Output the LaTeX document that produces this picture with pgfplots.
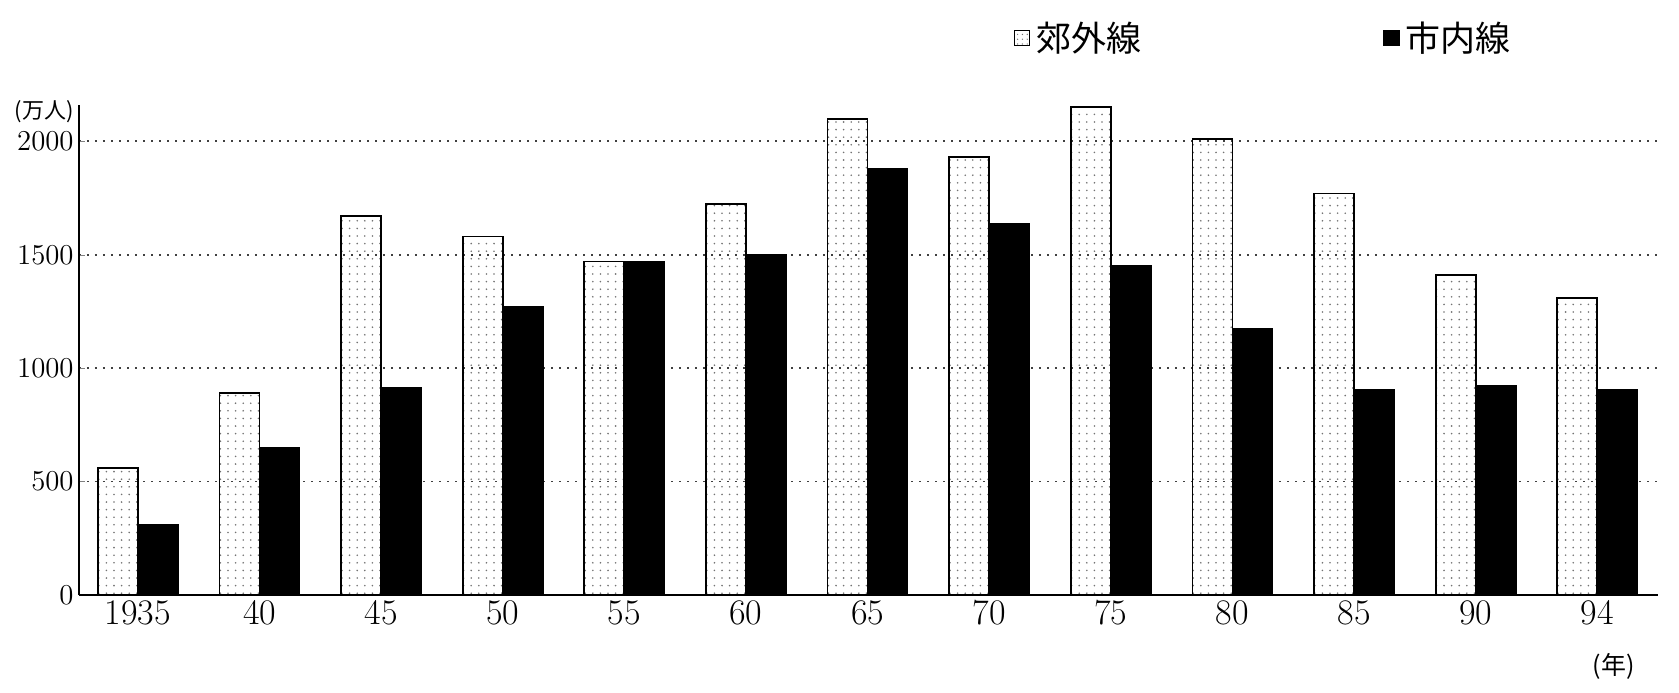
\documentclass[border=0pt]{standalone}
\usepackage{fontspec}
\usepackage{pgfplots}
\pgfplotsset{compat=1.18}
\usetikzlibrary{patterns.meta}
\newfontfamily\cjk{Noto Sans CJK JP}

\begin{document}
\begin{tikzpicture}
\path[use as bounding box] (0,0) rectangle (839.5pt,346pt);
\begin{axis}[
  at={(39.5pt,48.5pt)}, anchor=south west,
  scale only axis, width=789.5pt, height=245pt,
  xmin=-0.485, xmax=12.5, ymin=0, ymax=2160,
  axis lines*=left,
  axis line style={line width=1.2pt},
  ybar=0pt, bar width=20pt,
  xtick={0,...,12},
  xticklabels={1935,40,45,50,55,60,65,70,75,80,85,90,94},
  ytick={0,500,1000,1500,2000},
  /pgf/number format/1000 sep={},
  major x tick style={draw=none},
  major tick length=3pt,
  tick align=inside,
  ymajorgrids,
  major grid style={black!75, line width=0.9pt, dash pattern=on 0.9pt off 3.1pt},
  x tick label style={font=\fontsize{18}{18}\selectfont, inner sep=2.5pt},
  y tick label style={font=\fontsize{15.5}{15.5}\selectfont, inner sep=2.5pt},
  legend columns=2,
  legend style={at={(0.588,1.137)}, anchor=west, draw=none, fill=none,
    font=\cjk\fontsize{17.5}{19}\selectfont,
    /tikz/every even column/.append style={column sep=118pt},
    nodes={inner sep=3pt}},
  clip=false,
]
\addplot[draw=black, line width=0.9pt, pattern={Dots[distance=3.8pt, radius=0.45pt]}, pattern color=black!55,
  legend image code/.code={\draw[black, line width=0.7pt, pattern={Dots[distance=2.4pt, radius=0.35pt]}, pattern color=black!55] (0pt,-3.7pt) rectangle (7.4pt,3.7pt);}]
  coordinates {(0,560)(1,890)(2,1670)(3,1580)(4,1470)(5,1725)(6,2100)(7,1930)(8,2150)(9,2010)(10,1770)(11,1410)(12,1310)};
\addlegendentry{郊外線}
\addplot[draw=black, line width=0.9pt, fill=black,
  legend image code/.code={\draw[black, fill=black] (0pt,-3.7pt) rectangle (7.4pt,3.7pt);}]
  coordinates {(0,310)(1,650)(2,915)(3,1270)(4,1470)(5,1500)(6,1880)(7,1635)(8,1450)(9,1175)(10,905)(11,920)(12,905)};
\addlegendentry{市内線}
\node[font=\cjk\fontsize{11}{12}\selectfont] at (rel axis cs:-0.022,0.986) {(万人)};
\node[font=\cjk\fontsize{12.5}{13}\selectfont] at (rel axis cs:0.972,-0.145) {(年)};
\end{axis}
\end{tikzpicture}
\end{document}
